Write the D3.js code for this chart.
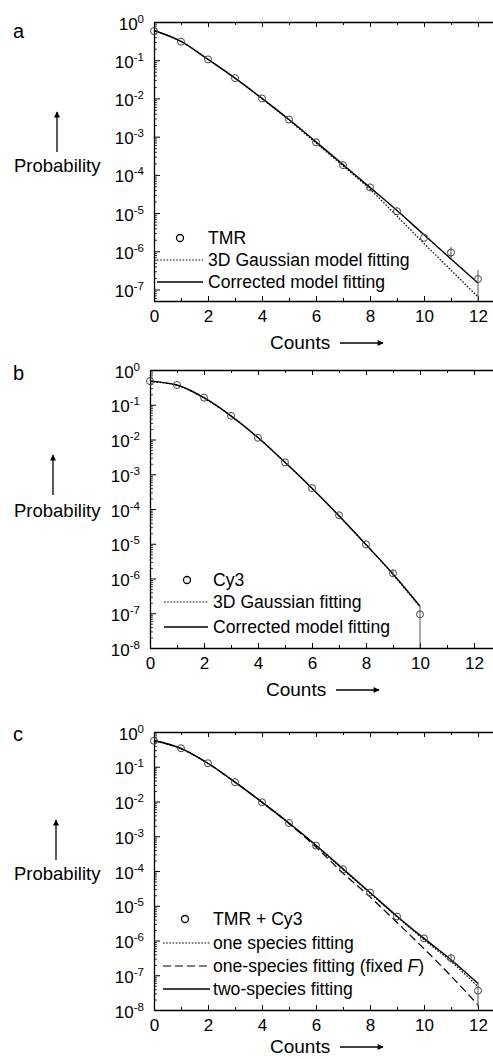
<!DOCTYPE html>
<html>
<head>
<meta charset="utf-8">
<script src="https://cdn.jsdelivr.net/npm/d3@7"></script>
<style>
  body { margin: 0; background: #fff; }
  text { font-family: "Liberation Sans", Arial, Helvetica, sans-serif; fill: #000; }
</style>
</head>
<body>
<script>
// counts (x values)
var countsA = [0, 1, 2, 3, 4, 5, 6, 7, 8, 9, 10, 11, 12];
var countsB = [0, 1, 2, 3, 4, 5, 6, 7, 8, 9, 10];
var countsC = [0, 1, 2, 3, 4, 5, 6, 7, 8, 9, 10, 11, 12];

// panel a: TMR
var tmrProb   = [0.58, 0.305, 0.105, 0.034, 0.0100, 0.0028, 7.1e-4, 1.8e-4, 4.7e-5, 1.12e-5, 2.25e-6, 9.3e-7, 1.87e-7];
var tmrGauss  = [0.60, 0.31, 0.105, 0.034, 0.0099, 0.0027, 6.8e-4, 1.72e-4, 4.2e-5, 8.3e-6, 1.6e-6, 3.2e-7, 6.4e-8];
var tmrCorr   = [0.60, 0.31, 0.105, 0.034, 0.0100, 0.0028, 7.3e-4, 1.85e-4, 4.7e-5, 1.17e-5, 2.7e-6, 6.3e-7, 1.48e-7];
var tmrErr    = [[11, 6.5e-7, 1.3e-6], [12, 1e-10, 3.2e-7]];

// panel b: Cy3
var cy3Prob   = [0.48, 0.37, 0.16, 0.048, 0.0112, 0.0022, 4.0e-4, 6.6e-5, 9.6e-6, 1.41e-6, 9.3e-8];
var cy3Gauss  = [0.46, 0.36, 0.155, 0.047, 0.0112, 0.0022, 3.9e-4, 6.3e-5, 9.3e-6, 1.3e-6, 1.5e-7];
var cy3Corr   = [0.48, 0.37, 0.16, 0.048, 0.0114, 0.0022, 3.95e-4, 6.4e-5, 9.5e-6, 1.35e-6, 1.6e-7];
var cy3Err    = [[9, 1.1e-6, 1.8e-6], [10, 1e-10, 1.6e-7]];

// panel c: TMR + Cy3
var mixProb   = [0.56, 0.34, 0.126, 0.036, 0.0095, 0.0024, 5.4e-4, 1.12e-4, 2.4e-5, 4.9e-6, 1.15e-6, 3.1e-7, 3.6e-8];
var mixOne    = [0.56, 0.33, 0.124, 0.036, 0.0095, 0.0024, 5.3e-4, 1.1e-4, 2.3e-5, 4.8e-6, 1.05e-6, 2.5e-7, 4.7e-8];
var mixFixed  = [0.56, 0.33, 0.124, 0.036, 0.0094, 0.0023, 4.9e-4, 8.7e-5, 1.8e-5, 3.3e-6, 5.8e-7, 9.5e-8, 1.4e-8];
var mixTwo    = [0.57, 0.34, 0.126, 0.036, 0.0096, 0.0024, 5.5e-4, 1.15e-4, 2.4e-5, 5.0e-6, 1.15e-6, 2.8e-7, 5.8e-8];
var mixErr    = [[11, 2.3e-7, 4.2e-7], [12, 1.2e-8, 6.4e-8]];

var xTicks = [0, 2, 4, 6, 8, 10, 12];

var W = 493, H = 1059;
var svg = d3.select("body").append("svg").attr("width", W).attr("height", H);

var DOT = "1.6,1.6", DASH = "8,4";

var panels = [
  {
    letter: "a", left: 154, top: 22, bottom: 301, ymin: 5e-8, minExp: 7,
    letterY: 38, probY: 172, arrowX: 57, arrowY: [152, 112],
    tickLabelY: 9, countsY: 342,
    counts: countsA, pts: tmrProb, err: tmrErr,
    lines: [
      { vals: tmrGauss, dash: DOT },
      { vals: tmrCorr, dash: null }
    ],
    legend: { cx: 180, tx: 208, lx: [157, 203], rows: [238, 260, 282],
      items: [{ sym: "circle", text: ["TMR"] },
              { sym: DOT, text: ["3D Gaussian model fitting"] },
              { sym: "solid", text: ["Corrected model fitting"] }] }
  },
  {
    letter: "b", left: 150, top: 370, bottom: 648, ymin: 1e-8, minExp: 8,
    letterY: 380, probY: 517, arrowX: 53, arrowY: [495, 455],
    tickLabelY: 9, countsY: 689,
    counts: countsB, pts: cy3Prob, err: cy3Err,
    lines: [
      { vals: cy3Gauss, dash: DOT },
      { vals: cy3Corr, dash: null }
    ],
    legend: { cx: 187, tx: 213, lx: [164, 208], rows: [580, 602, 627],
      items: [{ sym: "circle", text: ["Cy3"] },
              { sym: DOT, text: ["3D Gaussian fitting"] },
              { sym: "solid", text: ["Corrected model fitting"] }] }
  },
  {
    letter: "c", left: 154, top: 732, bottom: 1010, ymin: 1e-8, minExp: 8,
    letterY: 741, probY: 880, arrowX: 56, arrowY: [860, 820],
    tickLabelY: 9, countsY: 1046,
    counts: countsC, pts: mixProb, err: mixErr,
    lines: [
      { vals: mixOne, dash: DOT },
      { vals: mixFixed, dash: DASH },
      { vals: mixTwo, dash: null }
    ],
    legend: { cx: 185, tx: 213, lx: [163, 210], rows: [919, 943, 966, 989],
      items: [{ sym: "circle", text: ["TMR + Cy3"] },
              { sym: DOT, text: ["one species fitting"] },
              { sym: DASH, text: ["one-species fitting (fixed ", "F", ")"] },
              { sym: "solid", text: ["two-species fitting"] }] }
  }
];

// arrow marker
svg.append("defs").append("marker")
  .attr("id", "arr").attr("viewBox", "0 0 10 10")
  .attr("refX", 9).attr("refY", 5)
  .attr("markerWidth", 9).attr("markerHeight", 6)
  .attr("markerUnits", "userSpaceOnUse")
  .attr("orient", "auto")
  .append("path").attr("d", "M0,0L10,5L0,10Z").attr("fill", "#000");

panels.forEach(function (p) {
  var x = d3.scaleLinear().domain([0, 13]).range([p.left, p.left + 351]);
  var y = d3.scaleLog().domain([1, p.ymin]).range([p.top, p.bottom]);
  var g = svg.append("g");

  // minor log ticks
  var minor = [];
  for (var e = 0; e <= p.minExp; e++) {
    for (var k = 2; k <= 9; k++) {
      var v = k * Math.pow(10, -e - 1);
      if (v >= p.ymin && v < 1) minor.push(v);
    }
  }
  var majors = d3.range(0, p.minExp + 1).map(function (e) { return Math.pow(10, -e); });

  g.append("g").attr("transform", "translate(" + p.left + ",0)")
    .call(d3.axisLeft(y).tickValues(minor).tickSize(-3).tickFormat(""))
    .call(function (s) { s.select(".domain").remove(); s.selectAll("line").attr("stroke-width", 0.8); });

  var ya = g.append("g").attr("transform", "translate(" + p.left + ",0)")
    .call(d3.axisLeft(y).tickValues(majors).tickSize(-6).tickSizeOuter(0).tickPadding(9).tickFormat(""));
  ya.select(".domain").attr("stroke-width", 1.3);
  ya.selectAll(".tick text").remove();
  ya.selectAll(".tick").append("text")
    .attr("x", -10).attr("y", 7).attr("text-anchor", "end")
    .style("font-size", "17px")
    .each(function (d) {
      var t = d3.select(this);
      var ex = Math.round(Math.log10(d));
      t.append("tspan").text("10");
      t.append("tspan").attr("dy", -7).style("font-size", "11.5px").text(ex === 0 ? "0" : "-" + (-ex));
    });

  // bottom axis
  var xb = g.append("g").attr("transform", "translate(0," + p.bottom + ")")
    .call(d3.axisBottom(x).tickValues(d3.range(0, 14)).tickSize(-3).tickSizeOuter(0).tickFormat(""));
  xb.select(".domain").attr("stroke-width", 1.3);
  xb.selectAll(".tick line").attr("y2", function (d) { return d % 2 === 0 ? -5 : -3; });
  xb.selectAll(".tick").filter(function (d) { return xTicks.indexOf(d) >= 0; })
    .append("text").attr("y", p.tickLabelY).attr("dy", "0.71em")
    .attr("text-anchor", "middle").style("font-size", "17px")
    .text(function (d) { return d; });

  // top axis
  var xt = g.append("g").attr("transform", "translate(0," + p.top + ")")
    .call(d3.axisTop(x).tickValues(d3.range(1, 14)).tickSize(-3).tickSizeOuter(0).tickFormat(""));
  xt.select(".domain").attr("stroke-width", 1.3);
  xt.selectAll(".tick line").attr("y2", function (d) { return d % 2 === 0 ? 5 : 3; });

  // fit lines
  var line = d3.line()
    .x(function (d) { return x(d[0]); })
    .y(function (d) { return y(d[1]); })
    .curve(d3.curveMonotoneX);
  p.lines.forEach(function (l) {
    var data = l.vals.map(function (v, i) { return [p.counts[i], v]; });
    g.append("path").datum(data).attr("d", line)
      .attr("fill", "none").attr("stroke", "#000")
      .attr("stroke-width", l.dash === null ? 1.4 : 1.2)
      .attr("stroke-dasharray", l.dash);
  });

  // error bars
  g.selectAll(".err").data(p.err).enter().append("line")
    .attr("x1", function (d) { return x(d[0]); })
    .attr("x2", function (d) { return x(d[0]); })
    .attr("y1", function (d) { return Math.min(y(Math.max(d[1], p.ymin)), p.bottom); })
    .attr("y2", function (d) { return y(d[2]); })
    .attr("stroke", "#555").attr("stroke-width", 1);

  // data points
  g.selectAll(".pt").data(p.pts).enter().append("circle")
    .attr("cx", function (d, i) { return x(p.counts[i]); })
    .attr("cy", function (d) { return y(d); })
    .attr("r", 3.5).attr("fill", "none")
    .attr("stroke", "#444").attr("stroke-width", 1);

  // legend
  var L = p.legend;
  L.items.forEach(function (it, i) {
    var yy = L.rows[i];
    if (it.sym === "circle") {
      g.append("circle").attr("cx", L.cx).attr("cy", yy).attr("r", 3.5)
        .attr("fill", "none").attr("stroke", "#000").attr("stroke-width", 1.3);
    } else {
      g.append("line").attr("x1", L.lx[0]).attr("x2", L.lx[1])
        .attr("y1", yy).attr("y2", yy).attr("stroke", "#000")
        .attr("stroke-width", it.sym === "solid" ? 1.4 : 1.2)
        .attr("stroke-dasharray", it.sym === "solid" ? null : it.sym);
    }
    var t = g.append("text").attr("x", L.tx).attr("y", yy).attr("dy", "0.36em")
      .style("font-size", "17.6px");
    it.text.forEach(function (s, j) {
      t.append("tspan").text(s).style("font-style", j === 1 ? "italic" : null);
    });
  });

  // panel letter
  svg.append("text").attr("x", 13).attr("y", p.letterY).style("font-size", "20px").text(p.letter);

  // y label with up arrow
  svg.append("text").attr("x", 14).attr("y", p.probY).style("font-size", "18.5px").text("Probability");
  svg.append("line").attr("x1", p.arrowX).attr("x2", p.arrowX)
    .attr("y1", p.arrowY[0]).attr("y2", p.arrowY[1])
    .attr("stroke", "#000").attr("stroke-width", 1.3).attr("marker-end", "url(#arr)");

  // x label with right arrow
  var cx0 = p.left + 116;
  svg.append("text").attr("x", cx0).attr("y", p.countsY).attr("dy", "0.36em")
    .style("font-size", "19px").text("Counts");
  svg.append("line").attr("x1", cx0 + 70).attr("x2", cx0 + 113)
    .attr("y1", p.countsY + 1).attr("y2", p.countsY + 1)
    .attr("stroke", "#000").attr("stroke-width", 1.3).attr("marker-end", "url(#arr)");
});
</script>
</body>
</html>
